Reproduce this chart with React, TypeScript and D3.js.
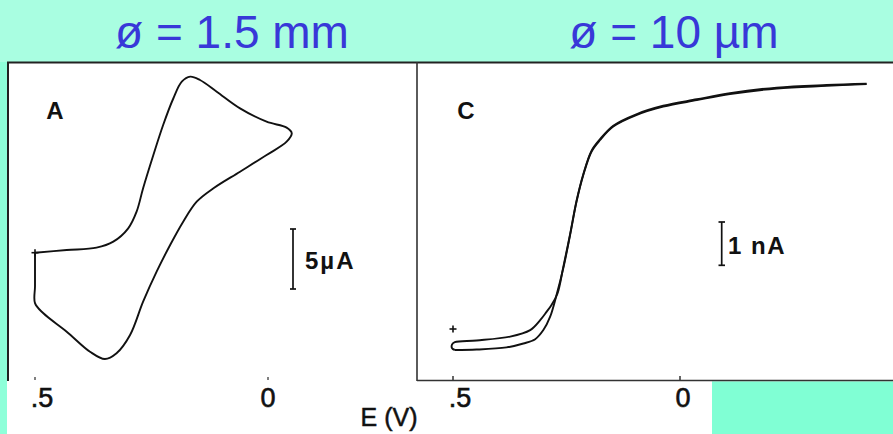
import React from "react";
import * as d3 from "d3";

// Panel A: cyclic voltammogram, 1.5 mm electrode (E in V, i in µA)
const aE = [0.5, 0.432, 0.368, 0.332, 0.3, 0.282, 0.268, 0.246, 0.225, 0.203, 0.185, 0.167, 0.146, 0.11, 0.06, 0.003, -0.04, -0.051, -0.04, 0.003, 0.06, 0.117, 0.153, 0.182, 0.21, 0.239, 0.268, 0.296, 0.325, 0.35, 0.382, 0.432, 0.482, 0.5, 0.5, 0.5, 0.5];
const aI = [0, 0.22, 0.42, 0.92, 2.03, 3.42, 5.37, 8.14, 10.64, 12.87, 14.25, 14.67, 14.39, 13.42, 12.03, 10.92, 10.42, 9.95, 9.25, 8.14, 6.75, 5.37, 4.25, 2.58, 0.64, -1.58, -4.08, -6.86, -8.38, -8.86, -8.25, -6.58, -5.05, -4.2, -2.8, -1.2, 0];

// Panel C: 10 µm microelectrode (E in V, i in nA)
const cFwdE = [0.496, 0.448, 0.382, 0.345, 0.319, 0.301, 0.286, 0.272, 0.257, 0.242, 0.228, 0.213, 0.195, 0.176, 0.147, 0.095, 0.037, -0.037, -0.11, -0.213, -0.323, -0.411];
const cFwdI = [0, 0.01, 0.06, 0.15, 0.25, 0.46, 0.77, 1.27, 1.89, 2.66, 3.42, 4.04, 4.58, 4.85, 5.16, 5.43, 5.62, 5.77, 5.91, 6.04, 6.1, 6.14];
const cRevE = [-0.411, -0.323, -0.213, -0.11, -0.037, 0.037, 0.095, 0.147, 0.176, 0.195, 0.213, 0.228, 0.242, 0.257, 0.27, 0.283, 0.294, 0.308, 0.33, 0.374, 0.448, 0.496, 0.502, 0.502, 0.496];
const cRevI = [6.15, 6.12, 6.06, 5.93, 5.79, 5.64, 5.45, 5.18, 4.87, 4.6, 4.06, 3.44, 2.68, 1.92, 1.3, 1.04, 0.88, 0.69, 0.46, 0.31, 0.22, 0.18, 0.13, 0.04, 0];

const tickValues = [0.5, 0];
const tickLabels = [".5", "0"];
const titles = ["ø = 1.5 mm", "ø = 10 µm"];
const panelLabels = ["A", "C"];
const scaleBarLabels = ["5µA", "1 nA"];
const scaleBarValues = [5, 1];

export default function App() {
  const W = 893, H = 434;
  const xA = d3.scaleLinear().domain([0.5, 0]).range([35, 268]);
  const yA = d3.scaleLinear().domain([0, 5]).range([252.7, 192.7]);
  const xC = d3.scaleLinear().domain([0.5, 0]).range([453, 680]);
  const yC = d3.scaleLinear().domain([0, 1]).range([350, 306.7]);

  const lineA = d3.line<number>().x((_, i) => xA(aE[i])).y((_, i) => yA(aI[i])).curve(d3.curveCatmullRom.alpha(0.5));
  const fwdC = cFwdE.map((e, i) => [e, cFwdI[i]]);
  const revC = cRevE.map((e, i) => [e, cRevI[i]]);
  const lineC = d3.line<number[]>().x(d => xC(d[0])).y(d => yC(d[1])).curve(d3.curveCatmullRom.alpha(0.5));

  const barA = yA(0) - yA(scaleBarValues[0]);
  const barC = yC(0) - yC(scaleBarValues[1]);
  const fontB = "'Liberation Sans', Arial, sans-serif";

  const plus = (x: number, y: number) => (
    <g stroke="#111" strokeWidth={1.6}>
      <line x1={x - 3.5} x2={x + 3.5} y1={y} y2={y} />
      <line x1={x} x2={x} y1={y - 3.5} y2={y + 3.5} />
    </g>
  );

  return (
    <div style={{ position: "fixed", left: 0, top: 0 }}>
      <svg width={W} height={H} style={{ display: "block" }}>
        <rect x={0} y={0} width={W} height={H} fill="#A9FEE1" />
        <rect x={0} y={62} width={7} height={H - 62} fill="#8EFFD9" />
        <rect x={7} y={62} width={W - 7} height={319} fill="#fff" />
        <rect x={7} y={381} width={705} height={H - 381} fill="#fff" />
        <rect x={712} y={382} width={W - 712} height={H - 382} fill="#80FFD4" />

        {/* titles */}
        <text x={232} y={48} textAnchor="middle" fontFamily={fontB} fontSize={46} fill="#3838D8">{titles[0]}</text>
        <text x={674} y={48} textAnchor="middle" fontFamily={fontB} fontSize={46} fill="#3838D8">{titles[1]}</text>

        {/* frame */}
        <line x1={7} x2={W} y1={62.5} y2={62.5} stroke="#222" strokeWidth={2} />
        <line x1={8} x2={8} y1={62} y2={381} stroke="#222" strokeWidth={2} />
        <line x1={417} x2={417} y1={62} y2={381} stroke="#333" strokeWidth={1.6} />
        <line x1={417} x2={W} y1={380.5} y2={380.5} stroke="#333" strokeWidth={1.4} />
        {tickValues.map((v, i) => (
          <g key={"ta" + i}>
            <line x1={xA(v)} x2={xA(v)} y1={377} y2={380} stroke="#555" strokeWidth={1.5} />
            <line x1={xC(v)} x2={xC(v)} y1={376} y2={380} stroke="#333" strokeWidth={1.5} />
          </g>
        ))}

        {/* tick labels */}
        {tickValues.map((v, i) => (
          <g key={"tl" + i} fontFamily={fontB} fontSize={27} fill="#111" stroke="#111" strokeWidth={0.6}>
            <text x={xA(v) + (i === 0 ? 7 : 0)} y={407} textAnchor="middle">{tickLabels[i]}</text>
            <text x={xC(v) + (i === 0 ? 7 : 3)} y={407} textAnchor="middle">{tickLabels[i]}</text>
          </g>
        ))}
        <text x={389} y={426} textAnchor="middle" fontFamily={fontB} fontSize={25} fill="#111" stroke="#111" strokeWidth={0.5}>E (V)</text>

        {/* panel labels */}
        <text x={55} y={119} textAnchor="middle" fontFamily={fontB} fontWeight="bold" fontSize={24} fill="#111">{panelLabels[0]}</text>
        <text x={466} y={119} textAnchor="middle" fontFamily={fontB} fontWeight="bold" fontSize={24} fill="#111">{panelLabels[1]}</text>

        {/* curves */}
        <path d={lineA(aE.map((_, i) => i)) || ""} fill="none" stroke="#111" strokeWidth={1.9} strokeLinejoin="round" />
        <path d={lineC(fwdC) || ""} fill="none" stroke="#111" strokeWidth={1.9} strokeLinejoin="round" />
        <path d={lineC(revC) || ""} fill="none" stroke="#111" strokeWidth={1.9} strokeLinejoin="round" />
        {plus(xA(0.5), yA(0))}
        {plus(xC(0.5), 329)}

        {/* scale bars */}
        <g stroke="#111" strokeWidth={1.7}>
          <line x1={293} x2={293} y1={229} y2={229 + barA} />
          <line x1={290} x2={296} y1={229} y2={229} />
          <line x1={290} x2={296} y1={229 + barA} y2={229 + barA} />
          <line x1={721.7} x2={721.7} y1={222} y2={222 + barC} />
          <line x1={718.5} x2={725} y1={222} y2={222} />
          <line x1={718.5} x2={725} y1={222 + barC} y2={222 + barC} />
        </g>
        <text x={305} y={269} fontFamily={fontB} fontWeight="bold" fontSize={24} letterSpacing={2} fill="#111">{scaleBarLabels[0]}</text>
        <text x={728} y={254} fontFamily={fontB} fontWeight="bold" fontSize={24} letterSpacing={1.5} fill="#111">{scaleBarLabels[1]}</text>
      </svg>
    </div>
  );
}
